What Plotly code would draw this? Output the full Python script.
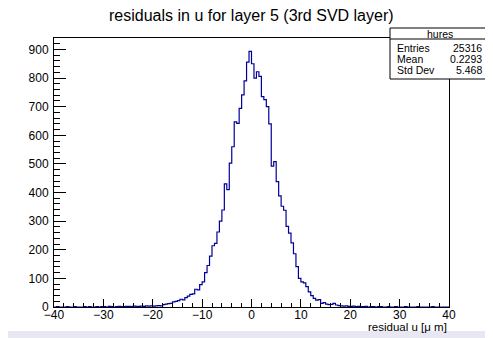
import plotly.graph_objects as go

# ---- data ----
bin_low = -40.0
bin_width = 0.5
counts = [
    # -40 .. -35
    0, 1, 0, 0, 0, 1, 0, 0, 1, 0,
    # -35 .. -30
    0, 0, 1, 0, 1, 0, 0, 1, 0, 1,
    # -30 .. -25
    1, 0, 2, 1, 0, 1, 2, 1, 1, 2,
    # -25 .. -20
    2, 1, 3, 2, 2, 3, 2, 4, 3, 4,
    # -20 .. -15
    3, 4, 5, 4, 8, 10, 12, 13, 18, 20,
    # -15 .. -10
    22, 27, 25, 33, 38, 44, 46, 62, 60, 78,
    # -10 .. -5
    88, 120, 145, 178, 214, 222, 262, 300, 339, 430,
    # -5 .. 0
    410, 503, 560, 647, 642, 694, 741, 790, 856, 893,
    # 0 .. 5
    850, 800, 822, 806, 735, 725, 700, 640, 492, 508,
    # 5 .. 10
    438, 388, 352, 338, 282, 258, 224, 186, 141, 100,
    # 10 .. 15
    88, 84, 71, 53, 40, 30, 24, 26, 13, 15,
    # 15 .. 20
    10, 8, 9, 13, 7, 5, 4, 3, 4, 2,
    # 20 .. 25
    2, 3, 1, 2, 1, 1, 2, 0, 1, 1,
    # 25 .. 30
    0, 1, 1, 0, 0, 1, 0, 0, 1, 0,
    # 30 .. 35
    0, 0, 1, 0, 0, 0, 0, 1, 0, 0,
    # 35 .. 40
    0, 0, 0, 1, 0, 0, 0, 0, 0, 0,
]
x_ticks = [-40, -30, -20, -10, 0, 10, 20, 30, 40]
y_ticks = [0, 100, 200, 300, 400, 500, 600, 700, 800, 900]

title_text = "residuals in u for layer 5 (3rd SVD layer)"
x_title = "residual u [\u03bc m]"
stats_name = "hures"
stats_labels = ["Entries", "Mean", "Std Dev"]
stats_values = ["25316", "0.2293", "5.468"]

# ---- figure ----
edges = [bin_low + bin_width * i for i in range(len(counts) + 1)]
yvals = counts + [counts[-1]]

OFF = 8                      # page body margin
W, H = 493 - OFF, 338 - OFF  # figure size
# plot area in page pixels
L, R, T, B = 54, 449, 38, 307


def px_x(p):
    return (p - L) / (R - L)


def px_y(p):
    return (B - p) / (B - T)


FONT = "Liberation Sans, Arial, Helvetica, sans-serif"

fig = go.Figure()
fig.add_trace(go.Scatter(
    x=edges, y=yvals, mode="lines",
    line=dict(shape="hv", color="#000099", width=1.2),
    hoverinfo="skip", showlegend=False,
))

axis_common = dict(
    showgrid=False, zeroline=False, showline=True, linecolor="black",
    linewidth=1, mirror=True, ticks="inside", tickcolor="black", tickwidth=1,
    tickfont=dict(family=FONT, size=12, color="black"),
)
fig.update_xaxes(range=[-40, 40], tickmode="array", tickvals=x_ticks,
                 ticktext=[("\u2212" + str(-v)) if v < 0 else str(v) for v in x_ticks],
                 ticklen=8, ticklabelstandoff=-3,
                 minor=dict(ticks="inside", ticklen=4, dtick=2, tickcolor="black"),
                 **axis_common)
fig.update_yaxes(range=[0, 940], tickmode="array", tickvals=y_ticks,
                 ticklen=11.5, ticklabelstandoff=2,
                 minor=dict(ticks="inside", ticklen=6, dtick=20, tickcolor="black"),
                 **axis_common)

shapes = [
    # white canvas on lavender page
    dict(type="rect", xref="paper", yref="paper", layer="below",
         x0=px_x(OFF - 2), x1=px_x(486), y0=px_y(331), y1=px_y(OFF - 2),
         fillcolor="white", line=dict(width=0)),
    # stats box
    dict(type="rect", xref="paper", yref="paper", layer="above",
         x0=px_x(390), x1=px_x(489), y0=px_y(79), y1=px_y(28),
         fillcolor="white", line=dict(color="black", width=1)),
    dict(type="line", xref="paper", yref="paper", layer="above",
         x0=px_x(390), x1=px_x(489), y0=px_y(39), y1=px_y(39),
         line=dict(color="black", width=1)),
]

annotations = [
    dict(text=title_text, x=px_x(251.5), y=px_y(15), xref="paper", yref="paper",
         xanchor="center", yanchor="middle", showarrow=False,
         font=dict(family=FONT, size=16, color="black")),
    dict(text=x_title, x=px_x(449), y=px_y(327), xref="paper", yref="paper",
         xanchor="right", yanchor="middle", showarrow=False,
         font=dict(family=FONT, size=11.5, color="black")),
    dict(text=stats_name, x=px_x(440), y=px_y(33.5), xref="paper", yref="paper",
         xanchor="center", yanchor="middle", showarrow=False,
         font=dict(family=FONT, size=10.5, color="black")),
]
row_y = [48.5, 59.5, 70]
for lab, val, yy in zip(stats_labels, stats_values, row_y):
    annotations.append(dict(text=lab, x=px_x(395), y=px_y(yy), xref="paper", yref="paper",
                            xanchor="left", yanchor="middle", showarrow=False,
                            font=dict(family=FONT, size=10.5, color="black")))
    annotations.append(dict(text=val, x=px_x(484), y=px_y(yy), xref="paper", yref="paper",
                            xanchor="right", yanchor="middle", showarrow=False,
                            font=dict(family=FONT, size=10.5, color="black")))

fig.update_layout(
    width=W, height=H,
    margin=dict(l=L - OFF, r=493 - R, t=T - OFF, b=338 - B, pad=0),
    paper_bgcolor="#e8e8f2", plot_bgcolor="white",
    shapes=shapes, annotations=annotations,
    showlegend=False,
)

fig.write_html("out.html")
